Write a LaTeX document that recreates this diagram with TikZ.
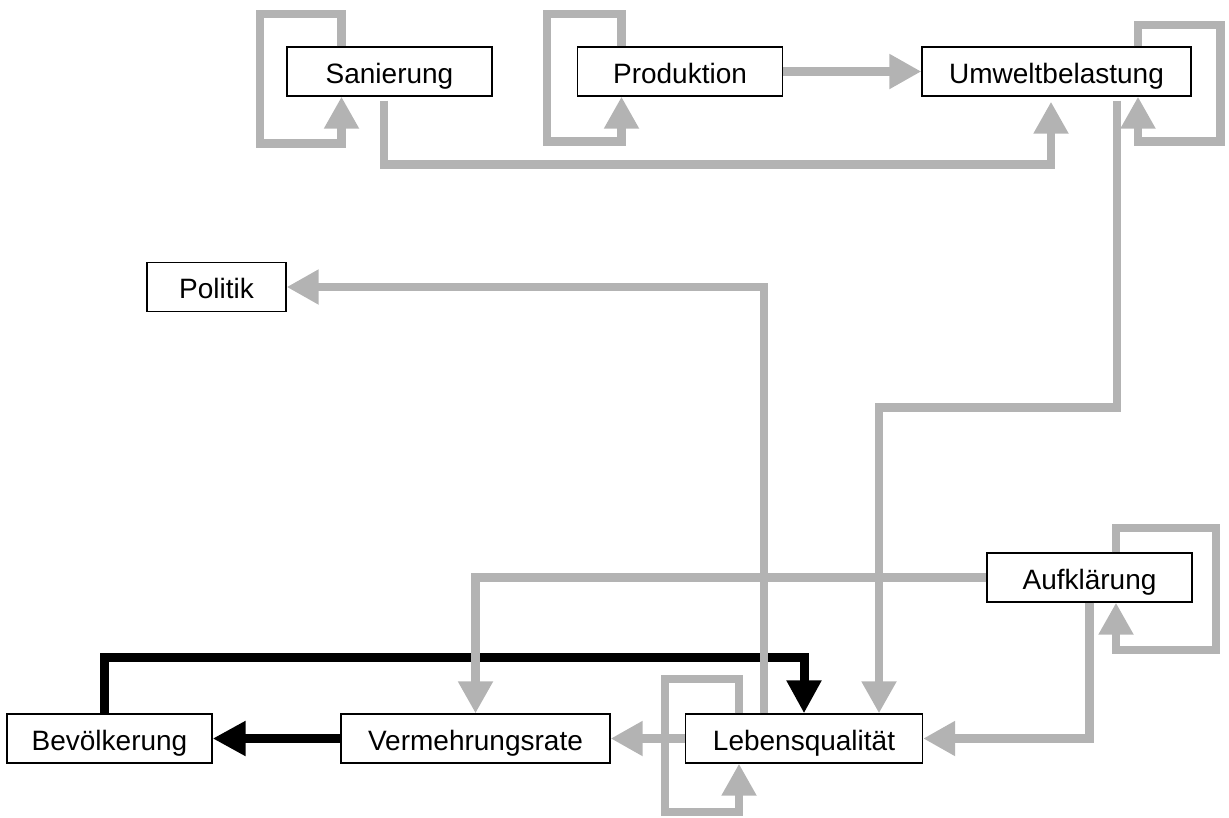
\documentclass[tikz,border=0pt]{standalone}
\usepackage{fontspec}
\setmainfont{Liberation Sans}
\usepackage{tikz}
\usetikzlibrary{arrows.meta}
\definecolor{linkgray}{RGB}{179,179,179}
\tikzset{
	box/.style={draw,fill=white,line width=1.3pt,minimum height=49pt,inner sep=0pt,text height=27pt,text depth=4pt,font=\fontsize{28}{34}\selectfont},
	feed/.style={draw=linkgray,line width=8.5pt,-{Triangle[length=32pt,width=33pt]}},
	strong/.style={draw=black,line width=9pt,-{Triangle[length=33pt,width=33pt]}}
}
\begin{document}
\begin{tikzpicture}[x=1pt,y=-1pt]
	\useasboundingbox (0,0) rectangle (1229,817);
	\node[box,minimum width=205pt] (san) at (389.5,71.5) {Sanierung};
	\node[box,minimum width=205pt] (prod) at (680,71.5) {Produktion};
	\node[box,minimum width=269pt] (umw) at (1056.5,71.5) {Umweltbelastung};
	\node[box,minimum width=139pt] (pol) at (216.5,287) {Politik};
	\node[box,minimum width=205pt] (aufk) at (1089.5,577.5) {Aufklärung};
	\node[box,minimum width=237pt] (leb) at (804,738.5) {Lebensqualität};
	\node[box,minimum width=269pt] (verm) at (475.5,738.5) {Vermehrungsrate};
	\node[box,minimum width=205pt] (bev) at (109.5,738.5) {Bevölkerung};
	\draw[strong] ([xshift=-5.5pt]bev.north) -- ++(0,-56) -| (leb.north);
	\draw[strong] (verm.west) -- (bev.east);
	\draw[feed] ([xshift=-48pt]san.north) |- (260,14) |- (341.5,143.5) -- ([xshift=-48pt]san.south);
	\draw[feed] ([xshift=-58.5pt]prod.north) |- (547,14) |- (621.5,141.5) -- ([xshift=-58.5pt]prod.south);
	\draw[feed] (prod.east) -- (umw.west);
	\draw[feed,shorten <=4pt,shorten >=5pt] ([xshift=-5.5pt]san.south) -- ++(0,68) -| ([xshift=-5.5pt]umw.south);
	\draw[feed] ([xshift=81.5pt]umw.north) |- (1220.5,25) |- (1138,141.5) -- ([xshift=81.5pt]umw.south);
	\draw[feed,shorten <=4pt] ([xshift=60.5pt]umw.south) -- ++(0,311) -| ([xshift=75pt]leb.north);
	\draw[feed] ([xshift=-40pt]leb.north) |- (pol.east);
	\draw[feed] (aufk.west) -| (verm.north);
	\draw[feed] (aufk.south) |- (leb.east);
	\draw[feed] ([xshift=26.5pt]aufk.north) |- (1216,528) |- (1116,650) -- ([xshift=26.5pt]aufk.south);
	\draw[feed] (leb.west) -- (verm.east);
	\draw[feed] ([xshift=-65pt]leb.north) |- (665,679) |- (739,812) -- ([xshift=-65pt]leb.south);
\end{tikzpicture}
\end{document}
